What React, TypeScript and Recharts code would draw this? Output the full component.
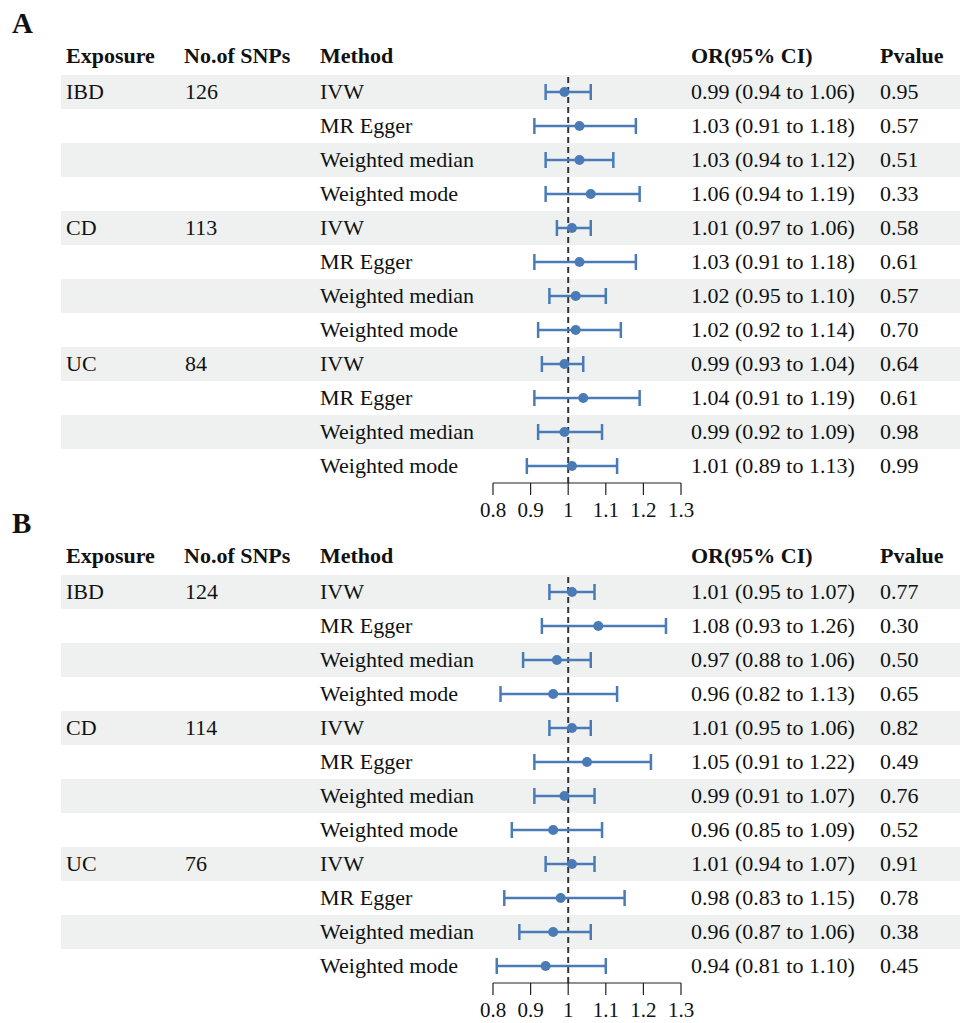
import {
  ScatterChart,
  Scatter,
  XAxis,
  YAxis,
  ErrorBar,
  ReferenceLine,
} from "recharts";

// rows: 3 exposures x 4 MR methods
const exposures = ["IBD", "CD", "UC"];
const methods = ["IVW", "MR Egger", "Weighted median", "Weighted mode"];
const xTicks = [0.8, 0.9, 1, 1.1, 1.2, 1.3];

// panel A
const snpsA = [126, 113, 84];
const orA = [0.99, 1.03, 1.03, 1.06, 1.01, 1.03, 1.02, 1.02, 0.99, 1.04, 0.99, 1.01];
const lowA = [0.94, 0.91, 0.94, 0.94, 0.97, 0.91, 0.95, 0.92, 0.93, 0.91, 0.92, 0.89];
const highA = [1.06, 1.18, 1.12, 1.19, 1.06, 1.18, 1.1, 1.14, 1.04, 1.19, 1.09, 1.13];
const pA = [0.95, 0.57, 0.51, 0.33, 0.58, 0.61, 0.57, 0.7, 0.64, 0.61, 0.98, 0.99];

// panel B
const snpsB = [124, 114, 76];
const orB = [1.01, 1.08, 0.97, 0.96, 1.01, 1.05, 0.99, 0.96, 1.01, 0.98, 0.96, 0.94];
const lowB = [0.95, 0.93, 0.88, 0.82, 0.95, 0.91, 0.91, 0.85, 0.94, 0.83, 0.87, 0.81];
const highB = [1.07, 1.26, 1.06, 1.13, 1.06, 1.22, 1.07, 1.09, 1.07, 1.15, 1.06, 1.1];
const pB = [0.77, 0.3, 0.5, 0.65, 0.82, 0.49, 0.76, 0.52, 0.91, 0.78, 0.38, 0.45];

const BLUE = "#4a7bb7";
const BAND = "#eef1f0";
const INK = "#111";
const ROW_H = 34;
const ROWS_TOP = 75;
const N_ROWS = 12;

const cell = (left: number, top: number, bold = false): React.CSSProperties => ({
  position: "absolute",
  left,
  top,
  height: ROW_H,
  lineHeight: `${ROW_H}px`,
  fontSize: 22,
  fontWeight: bold ? 700 : 400,
  whiteSpace: "nowrap",
});

interface PanelProps {
  label: string;
  offset: number;
  snps: number[];
  or: number[];
  low: number[];
  high: number[];
  p: number[];
}

function ForestPanel({ label, offset, snps, or, low, high, p }: PanelProps) {
  const data = or.map((v, i) => ({
    x: v,
    y: i + 0.5,
    err: [v - low[i], high[i] - v],
  }));

  return (
    <div style={{ position: "absolute", left: 0, top: offset, width: 960, height: 500 }}>
      <div style={{ position: "absolute", left: 12, top: 9, fontSize: 29, fontWeight: 700, lineHeight: "29px" }}>
        {label}
      </div>

      {/* shaded bands on every other row */}
      {or.map((_, i) =>
        i % 2 === 0 ? (
          <div
            key={"band" + i}
            style={{
              position: "absolute",
              left: 61,
              top: ROWS_TOP + i * ROW_H,
              width: 899,
              height: ROW_H,
              background: BAND,
            }}
          />
        ) : null
      )}

      {/* header */}
      <div style={cell(66, ROWS_TOP - ROW_H - 2, true)}>Exposure</div>
      <div style={cell(184, ROWS_TOP - ROW_H - 2, true)}>No.of SNPs</div>
      <div style={cell(320, ROWS_TOP - ROW_H - 2, true)}>Method</div>
      <div style={cell(691, ROWS_TOP - ROW_H - 2, true)}>OR(95% CI)</div>
      <div style={cell(880, ROWS_TOP - ROW_H - 2, true)}>Pvalue</div>

      {or.map((v, i) => {
        const top = ROWS_TOP + i * ROW_H;
        const g = Math.floor(i / methods.length);
        const first = i % methods.length === 0;
        return (
          <div key={"row" + i}>
            {first && <div style={cell(66, top)}>{exposures[g]}</div>}
            {first && <div style={cell(185, top)}>{snps[g]}</div>}
            <div style={cell(320, top)}>{methods[i % methods.length]}</div>
            <div style={cell(691, top)}>
              {`${v.toFixed(2)} (${low[i].toFixed(2)} to ${high[i].toFixed(2)})`}
            </div>
            <div style={cell(880, top)}>{p[i].toFixed(2)}</div>
          </div>
        );
      })}

      <div style={{ position: "absolute", left: 473, top: ROWS_TOP }}>
        <ScatterChart
          width={240}
          height={N_ROWS * ROW_H + 45}
          margin={{ top: 0, right: 32, bottom: 0, left: 20 }}
        >
          <XAxis
            type="number"
            dataKey="x"
            domain={[0.8, 1.3]}
            ticks={xTicks}
            interval={0}
            height={45}
            axisLine={{ stroke: "#222", strokeWidth: 1.2 }}
            tickLine={{ stroke: "#222", strokeWidth: 1.2 }}
            tickSize={12}
            tickMargin={7}
            tick={{ fill: INK, fontSize: 21, fontFamily: "'Liberation Serif', serif" }}
          />
          <YAxis type="number" dataKey="y" domain={[0, N_ROWS]} reversed hide />
          <ReferenceLine x={1} stroke="#333" strokeWidth={2} strokeDasharray="6 4" />
          <Scatter
            data={data}
            fill={BLUE}
            isAnimationActive={false}
            shape={(props: any) => <circle cx={props.cx} cy={props.cy} r={5} fill={BLUE} />}
          >
            <ErrorBar dataKey="err" direction="x" stroke={BLUE} strokeWidth={2.5} width={8} />
          </Scatter>
        </ScatterChart>
      </div>
    </div>
  );
}

export default function App() {
  return (
    <div
      style={{
        position: "absolute",
        left: 0,
        top: 0,
        width: 960,
        height: 1023,
        background: "#fff",
        color: INK,
        fontFamily: "'Liberation Serif', 'Times New Roman', serif",
      }}
    >
      <ForestPanel label="A" offset={0} snps={snpsA} or={orA} low={lowA} high={highA} p={pA} />
      <ForestPanel label="B" offset={500} snps={snpsB} or={orB} low={lowB} high={highB} p={pB} />
    </div>
  );
}
